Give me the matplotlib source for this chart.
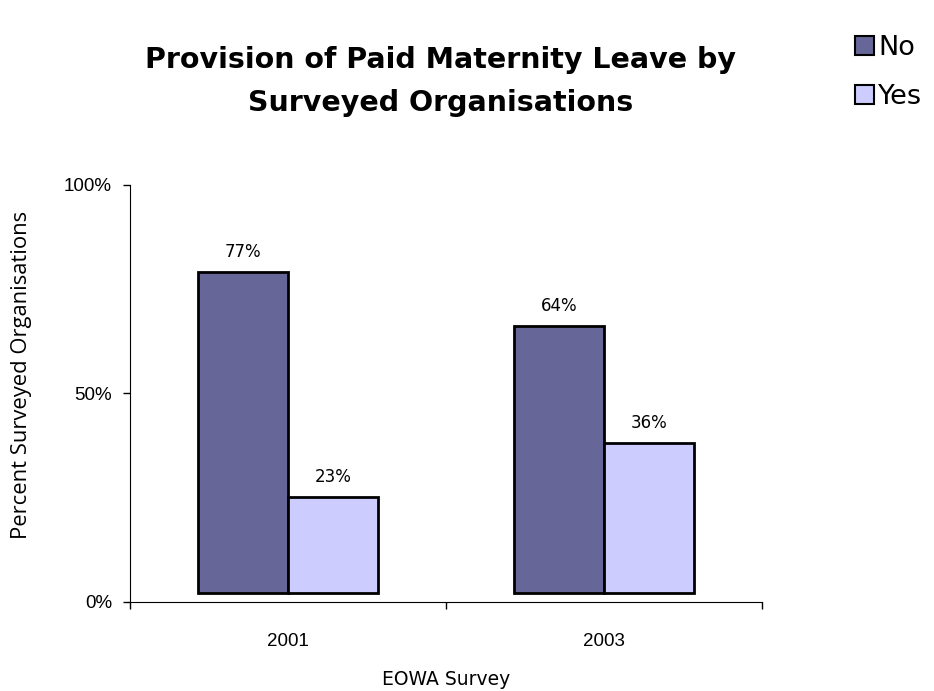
import matplotlib.pyplot as plt
import numpy as np
from matplotlib.patches import Patch

years = ["2001", "2003"]
no_pct = [77, 64]
yes_pct = [23, 36]
series_names = ["No", "Yes"]
colors = ["#666699", "#CCCCFF"]

fig = plt.figure(figsize=(9.34, 6.91), dpi=100)
ax = fig.add_axes([0.1392, 0.1288, 0.6767, 0.6035])

x = np.arange(len(years))
w = 0.285
base = 2.2  # bars sit slightly above the axis line
for vals, off, c in [(no_pct, -w / 2, colors[0]), (yes_pct, w / 2, colors[1])]:
    bars = ax.bar(x + off, vals, w, bottom=base, color=c, edgecolor="black", linewidth=2)
    for b, v in zip(bars, vals):
        ax.text(b.get_x() + b.get_width() / 2, base + v + 2.6, f"{v}%",
                ha="center", va="bottom", fontsize=12, family="DejaVu Sans")

ax.set_xlim(-0.5, 1.5)
ax.set_ylim(0, 100)
ax.set_yticks([0, 50, 100])
ax.set_yticklabels(["0%", "50%", "100%"], fontsize=13.5, family="Liberation Sans")
ax.set_xticks(x)
ax.set_xticklabels(years, fontsize=13.5, family="Liberation Sans")
ax.tick_params(axis="x", which="major", length=0, pad=22)
ax.set_xticks([-0.5, 0.5, 1.5], minor=True)
ax.tick_params(axis="x", which="minor", length=5, width=1)
ax.tick_params(axis="y", length=5, width=1, pad=8)
for s in ["top", "right"]:
    ax.spines[s].set_visible(False)

ax.set_xlabel("EOWA Survey", fontsize=13.5, family="DejaVu Sans")
ax.xaxis.set_label_coords(0.5, -0.163)
ax.set_ylabel("Percent Surveyed Organisations", fontsize=15.8, family="Open Sans")
ax.yaxis.set_label_coords(-0.155, 0.545)

fig.text(0.472, 0.882, "Provision of Paid Maternity Leave by\nSurveyed Organisations",
         ha="center", va="center", fontsize=20.5, fontweight="bold",
         family="DejaVu Sans", linespacing=1.66)

handles = [Patch(facecolor=c, edgecolor="black", linewidth=1.5) for c in colors]
fig.legend(handles, series_names, loc="upper left", bbox_to_anchor=(0.904, 0.965),
           frameon=False, fontsize=19.5, handlelength=0.7, handleheight=0.7,
           handletextpad=0.15, labelspacing=0.85, borderaxespad=0)

fig.savefig("out.png", dpi=100)
